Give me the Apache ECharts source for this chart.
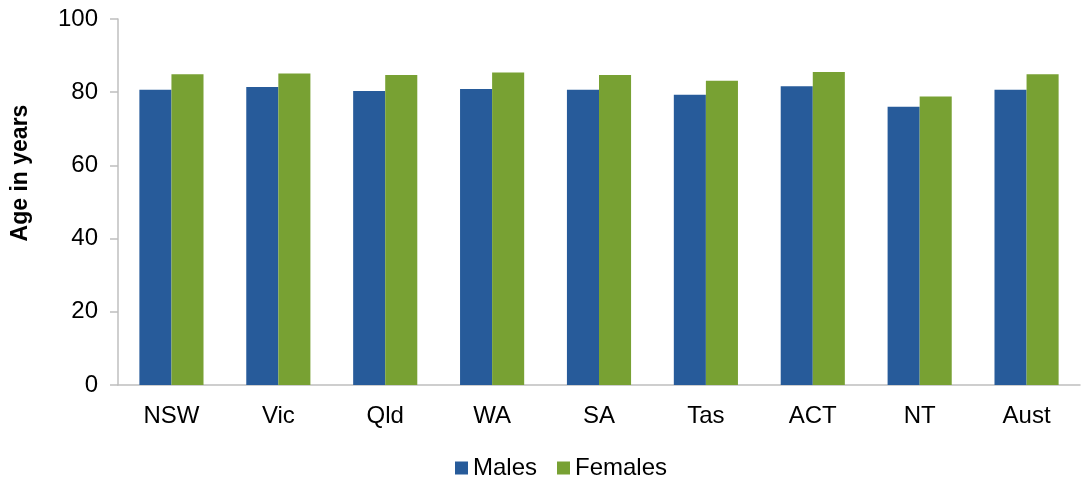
<!DOCTYPE html>
<html><head><meta charset="utf-8">
<script src="https://cdn.jsdelivr.net/npm/echarts@6/dist/echarts.min.js"></script>
<style>html,body{margin:0;padding:0;background:#fff}#c{width:1084px;height:477px}</style>
</head><body><div id="c"></div>
<script>
const categories = ['NSW','Vic','Qld','WA','SA','Tas','ACT','NT','Aust'];
const males = [80.7, 81.4, 80.3, 80.9, 80.7, 79.3, 81.6, 76.0, 80.7];
const females = [84.9, 85.1, 84.7, 85.4, 84.7, 83.1, 85.5, 78.8, 84.9];
const yTicks = [0, 20, 40, 60, 80, 100];

const chart = echarts.init(document.getElementById('c'), null, {renderer: 'canvas'});
const font = '"Liberation Sans", Arial, sans-serif';
chart.setOption({
  animation: false,
  grid: {left: 118, right: 4, top: 19, bottom: 92, containLabel: false},
  legend: {
    left: 450, top: 451, itemWidth: 13, itemHeight: 13, itemGap: 20,
    icon: 'rect',
    textStyle: {fontFamily: font, fontSize: 24, color: '#000', padding: [0,0,0,0]},
    data: ['Males', 'Females']
  },
  xAxis: {
    type: 'category', data: categories,
    axisLine: {lineStyle: {color: '#bfbfbf', width: 1.5}},
    axisTick: {show: false},
    axisLabel: {fontFamily: font, fontSize: 24, color: '#000', margin: 19}
  },
  yAxis: {
    type: 'value', min: yTicks[0], max: yTicks[yTicks.length-1], interval: 20,
    name: 'Age in years', nameLocation: 'middle', nameGap: 86, nameRotate: 90,
    nameTextStyle: {fontFamily: font, fontSize: 23, fontWeight: 'bold', color: '#000', padding: [0,0,0,58]},
    axisLine: {show: true, lineStyle: {color: '#bfbfbf', width: 1.5}},
    axisTick: {show: true, length: 8, lineStyle: {color: '#bfbfbf', width: 1.5}},
    splitLine: {show: false},
    axisLabel: {fontFamily: font, fontSize: 24, color: '#000', margin: 20}
  },
  series: [
    {name: 'Males', type: 'bar', data: males, barGap: '0%', barCategoryGap: '40%',
     itemStyle: {color: '#275B9A'}},
    {name: 'Females', type: 'bar', data: females, barGap: '0%', barCategoryGap: '40%',
     itemStyle: {color: '#78A133'}}
  ]
});
</script></body></html>
